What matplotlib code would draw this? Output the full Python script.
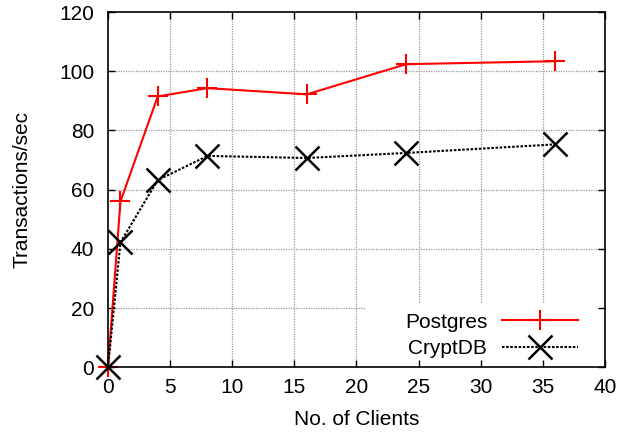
import matplotlib
matplotlib.use("Agg")
import matplotlib.pyplot as plt
import matplotlib.patches as mpatches

plt.rcParams['font.family'] = ['Liberation Sans', 'DejaVu Sans']

# data
clients = [0, 1, 4, 8, 16, 24, 36]
postgres = [0, 56, 91.5, 94.3, 92.2, 102.4, 103.4]
cryptdb = [0, 42.2, 63.2, 71.4, 70.7, 72.4, 75.3]
xticks = [0, 5, 10, 15, 20, 25, 30, 35, 40]
yticks = [0, 20, 40, 60, 80, 100, 120]

fs = 15

fig = plt.figure(figsize=(6.23, 4.32), dpi=100)
ax = fig.add_axes([0.1734, 0.150, 0.7976, 0.822])

# gnuplot style grid, drawn by hand so the key box can hide it but not the ticks
for x in xticks[1:-1]:
    ax.axvline(x, color='#999999', ls=(0, (1, 1)), lw=0.9, zorder=0.5)
for y in yticks[1:-1]:
    ax.axhline(y, color='#999999', ls=(0, (1, 1)), lw=0.9, zorder=0.5)

# white key box
ax.add_patch(mpatches.Rectangle((0.517, 0.0), 0.473, 0.18, transform=ax.transAxes,
                                facecolor='white', edgecolor='none', zorder=1))

ax.plot(clients, postgres, color='red', lw=1.5, marker='+', ms=15, mew=1.5,
        label='Postgres', clip_on=False, zorder=3)
ax.plot(clients, cryptdb, color='black', lw=1.5, ls=(0, (1.2, 0.8)), marker='x',
        ms=17, mew=1.8, label='CryptDB', clip_on=False, zorder=3)

ax.set_xlim(0, 40)
ax.set_ylim(0, 120)
ax.set_xticks(xticks)
ax.set_yticks(yticks)
ax.tick_params(direction='in', top=True, right=True, length=5, width=1, labelsize=fs)
ax.tick_params(axis='x', pad=8)
ax.tick_params(axis='y', pad=10)
for s in ax.spines.values():
    s.set_linewidth(1.2)
    s.set_zorder(4)

ax.set_xlabel('No. of Clients', fontsize=fs, labelpad=9)
ax.set_ylabel('Transactions/sec', fontsize=fs, labelpad=20)

leg = ax.legend(loc='lower right', bbox_to_anchor=(0.954, 0.014), frameon=False,
                markerfirst=False, handlelength=3.65, handletextpad=0.7,
                fontsize=fs, borderaxespad=0, borderpad=0.2, labelspacing=0.35)
leg.set_zorder(4)

fig.savefig('out.png', dpi=100)
